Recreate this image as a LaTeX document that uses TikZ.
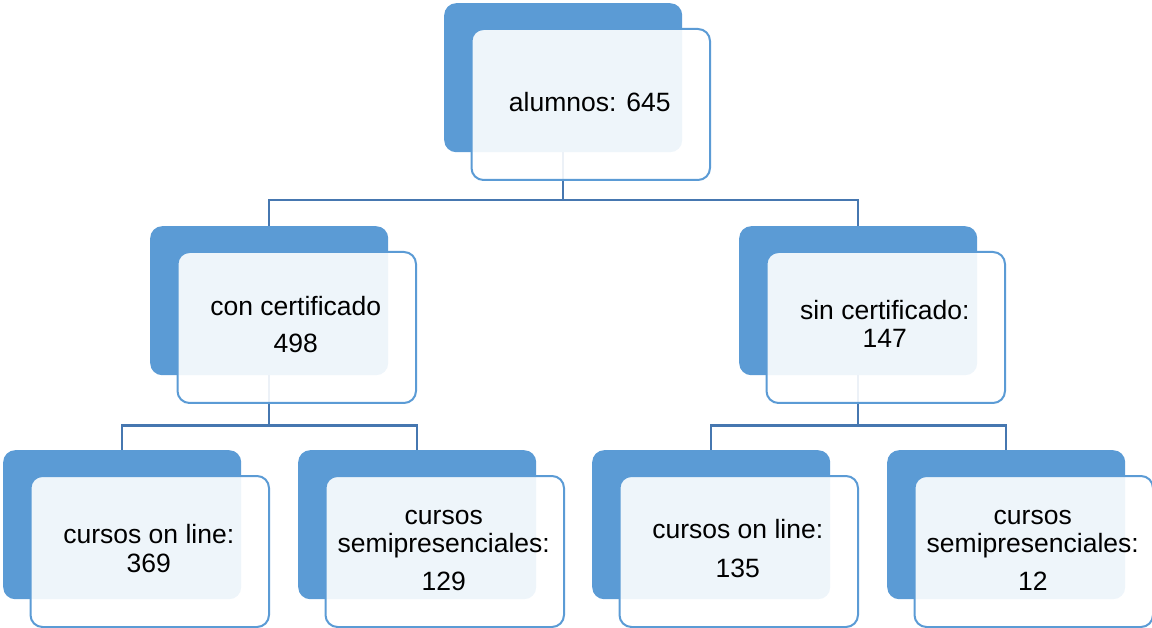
\documentclass[tikz,border=0pt]{standalone}
\usepackage{fontspec}
\setmainfont{Liberation Sans}
\definecolor{backblue}{HTML}{5B9BD5}
\definecolor{linkblue}{HTML}{4677B0}
\begin{document}
\begin{tikzpicture}[x=1pt,y=-1pt,
  backbox/.style={fill=backblue, rounded corners=12pt, minimum width=238pt, minimum height=149pt, inner sep=0pt, anchor=north west},
  frontbox/.style={draw=backblue, line width=2pt, fill=white, fill opacity=0.9, rounded corners=12pt, minimum width=238.5pt, minimum height=151pt, inner sep=0pt, anchor=north west},
  lbl/.style={anchor=base, font=\fontsize{26.5}{30}\selectfont, text=black, inner sep=0pt},
  link/.style={draw=linkblue, line width=2.2pt}]
\useasboundingbox (0,0) rectangle (1152,628);
% back boxes
\node[backbox] (b1) at (444,3) {};
\node[backbox] (b2l) at (150,226) {};
\node[backbox] (b2r) at (739,226) {};
\node[backbox] (b3a) at (3,450) {};
\node[backbox] (b3b) at (298,450) {};
\node[backbox] (b3c) at (592,450) {};
\node[backbox] (b3d) at (887,450) {};
% connectors
\path (b1.south) ++(0,48) coordinate (j1);
\path (b2l.south) ++(0,50) coordinate (j2l);
\path (b2r.south) ++(0,50) coordinate (j2r);
\draw[link] (b1.south) -- (j1) -| (b2l.north);
\draw[link] (j1) -| (b2r.north);
\draw[link] (b2l.south) -- (j2l) -| (b3a.north);
\draw[link] (j2l) -| (b3b.north);
\draw[link] (b2r.south) -- (j2r) -| (b3c.north);
\draw[link] (j2r) -| (b3d.north);
% front boxes
\node[frontbox] (f1) at (470.5,28) {};
\node[frontbox] (f2l) at (176.5,251) {};
\node[frontbox] (f2r) at (765.5,251) {};
\node[frontbox] (f3a) at (29.5,475) {};
\node[frontbox] (f3b) at (324.5,475) {};
\node[frontbox] (f3c) at (618.5,475) {};
\node[frontbox] (f3d) at (913.5,475) {};
% labels
\node[lbl] (t1) at (589.75,112) {alumnos: 645};
\node[lbl] (t2la) at (295.75,316) {con certificado};
\node[lbl] (t2lb) at (295.75,353) {498};
\node[lbl] (t2ra) at (884.75,320) {sin certificado:};
\node[lbl] (t2rb) at (884.75,348) {147};
\node[lbl] (t3aa) at (148.75,543) {cursos on line:};
\node[lbl] (t3ab) at (148.75,572) {369};
\node[lbl] (t3ba) at (443.75,524) {cursos};
\node[lbl] (t3bb) at (443.75,552) {semipresenciales:};
\node[lbl] (t3bc) at (443.75,590) {129};
\node[lbl] (t3ca) at (737.75,538) {cursos on line:};
\node[lbl] (t3cb) at (737.75,577) {135};
\node[lbl] (t3da) at (1032.75,524) {cursos};
\node[lbl] (t3db) at (1032.75,552) {semipresenciales:};
\node[lbl] (t3dc) at (1032.75,590) {12};
\end{tikzpicture}
\end{document}
